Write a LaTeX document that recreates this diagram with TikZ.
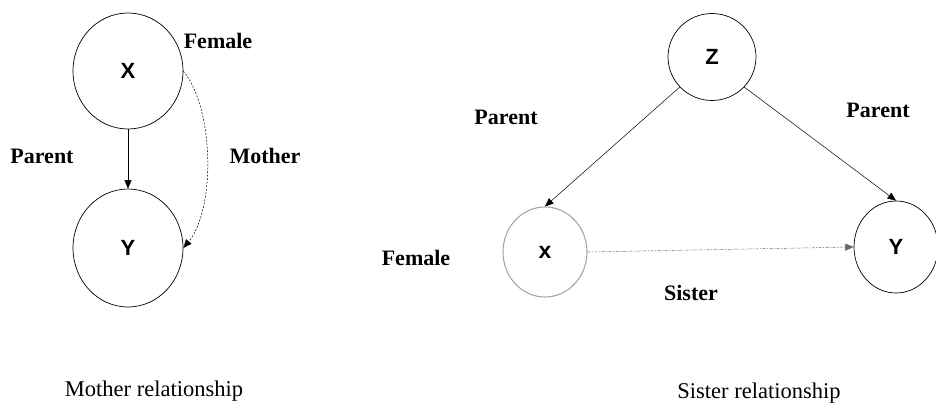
\documentclass[tikz,border=0pt]{standalone}
\usepackage{fontspec}
\setmainfont{Liberation Serif}
\setsansfont{Liberation Sans}
\usetikzlibrary{shapes.geometric,arrows.meta}
\begin{document}
\begin{tikzpicture}[x=1pt,y=-1pt,
  ent/.style={ellipse,draw=black,line width=0.7pt,inner sep=0pt,
    font=\sffamily\bfseries\fontsize{22}{25}\selectfont},
  grayent/.style={ent,draw=black!35,line width=1.1pt,
    font=\sffamily\bfseries\fontsize{23}{26}\selectfont},
  lbl/.style={inner sep=0pt,font=\rmfamily\bfseries\fontsize{22}{26}\selectfont},
  captxt/.style={inner sep=0pt,font=\rmfamily\fontsize{22.5}{26}\selectfont},
  arr/.style={line width=0.5pt,-{Triangle[length=8.5pt,width=7pt]}},
  dsh/.style={arr,dash pattern=on 2pt off 1.5pt},
  dshdot/.style={arr,draw=black!60,dash pattern=on 3pt off 1.5pt on 1pt off 1.5pt}
]
\useasboundingbox (0,0) rectangle (936,403);
% left graph
\node[ent,minimum width=110pt,minimum height=116pt] (lx) at (128,71) {X};
\node[ent,minimum width=110pt,minimum height=118pt] (ly) at (128,248) {Y};
\draw[arr] (lx.south) -- (ly.north);
\draw[dsh] (lx.east) .. controls (215,110) and (215,210) .. (ly.east);
\node[lbl] (fl) at (218,41) {Female};
\node[lbl] (pl) at (42,156) {Parent};
\node[lbl] (ml) at (265,156) {Mother};
\node[captxt] (mc) at (154,391) {Mother relationship};
% right graph
\node[ent,minimum width=88pt,minimum height=87pt] (z) at (712,57) {Z};
\node[grayent,minimum width=84pt,minimum height=90pt] (rx) at (545,252) {x};
\node[ent,minimum width=84pt,minimum height=92pt] (ry) at (896,247) {Y};
\draw[arr] (z.223) -- (rx.north);
\draw[arr] (z.317) -- (ry.north);
\draw[dshdot] (rx.east) -- (ry.west);
\node[lbl] (p1) at (506,117) {Parent};
\node[lbl] (p2) at (878,110) {Parent};
\node[lbl] (fr) at (416,258) {Female};
\node[lbl] (sr) at (691,293) {Sister};
\node[captxt] (sc) at (759,393) {Sister relationship};
\end{tikzpicture}
\end{document}
